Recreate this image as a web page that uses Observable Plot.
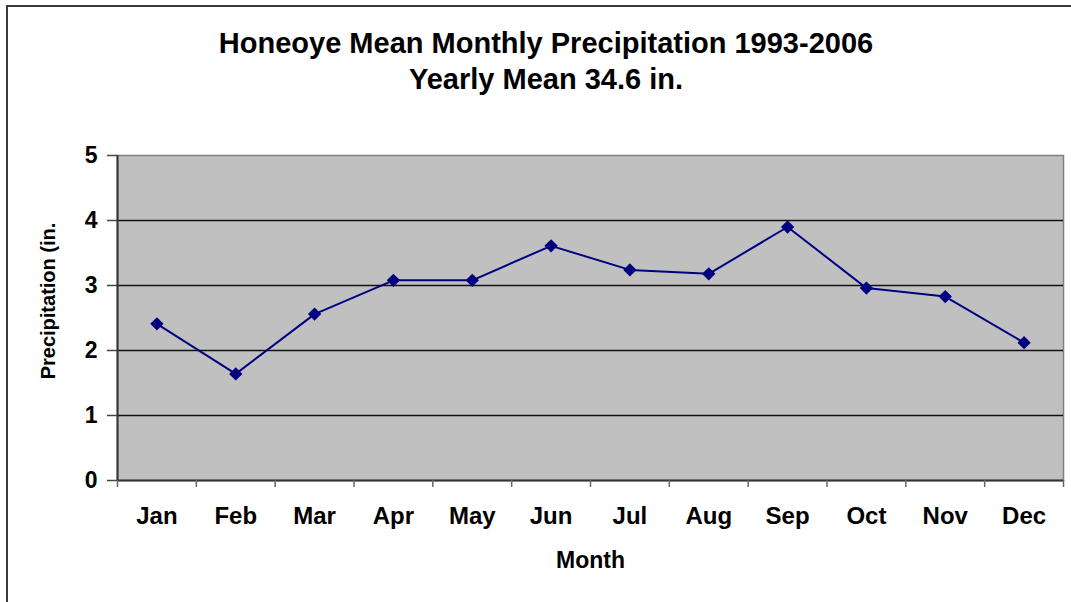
<!DOCTYPE html>
<html>
<head>
<meta charset="utf-8">
<script src="https://cdn.jsdelivr.net/npm/d3@7"></script>
<script src="https://cdn.jsdelivr.net/npm/@observablehq/plot@0.6"></script>
<style>
  body { margin: 0; background: #fff; }
  #wrap { position: relative; width: 1071px; height: 602px; overflow: hidden; background: #fff;
          font-family: "Liberation Sans", Arial, sans-serif; }
  #edge { position: absolute; left: 6px; top: 5px; width: 1200px; height: 800px;
          border-left: 2px solid #3a3a3a; border-top: 2px solid #3a3a3a; pointer-events: none; }
  #titles { width: 1092px; height: 120px; box-sizing: border-box; padding-top: 25px;
            text-align: center; font-weight: bold; font-size: 29px; line-height: 36px; color: #000; }
  #chart svg { display: block; }
</style>
</head>
<body>
<div id="wrap">
  <div id="edge"></div>
  <div id="titles">
    <div>Honeoye Mean Monthly Precipitation 1993-2006</div>
    <div>Yearly Mean 34.6 in.</div>
  </div>
  <div id="chart"></div>
</div>
<script>
const months = ["Jan","Feb","Mar","Apr","May","Jun","Jul","Aug","Sep","Oct","Nov","Dec"];
const precipitation = [2.41, 1.64, 2.56, 3.08, 3.08, 3.61, 3.24, 3.18, 3.90, 2.96, 2.83, 2.12];
const yTicks = [0, 1, 2, 3, 4, 5];
const yTitle = "Precipitation (in.";
const xTitle = "Month";

const data = months.map((m, i) => ({month: m, pos: i + 0.5, value: precipitation[i]}));
const boundaries = d3.range(months.length + 1);

const chart = Plot.plot({
  width: 1071,
  height: 482,
  marginTop: 35,
  marginBottom: 122,
  marginLeft: 117,
  marginRight: 8,
  style: {fontFamily: '"Liberation Sans", Arial, sans-serif', fontSize: "23px", fontWeight: "bold", color: "#000", background: "#fff", overflow: "visible"},
  x: {type: "linear", domain: [0, months.length], axis: null},
  y: {domain: [0, 5], axis: null},
  marks: [
    Plot.frame({fill: "#c0c0c0", stroke: "#808080", strokeWidth: 1.5}),
    Plot.gridY(yTicks.filter(d => d > 0 && d < 5), {stroke: "#111", strokeOpacity: 1, strokeWidth: 1.3}),
    Plot.ruleX([0], {stroke: "#333", strokeWidth: 2}),
    Plot.ruleY([0], {stroke: "#333", strokeWidth: 2}),
    Plot.axisY(yTicks, {anchor: "left", tickSize: 10, tickPadding: 10, tickFormat: "d", stroke: "#444", strokeWidth: 1.5, label: null, fontSize: 23, fontWeight: "bold", fill: "#000"}),
    Plot.axisX(boundaries, {anchor: "bottom", tickSize: 7, tickFormat: () => "", stroke: "#666", strokeWidth: 1.5, label: null}),
    Plot.text(data, {x: "pos", text: "month", frameAnchor: "bottom", lineAnchor: "middle", dy: 36, fontSize: 24, fontWeight: "bold", fill: "#000"}),
    Plot.text([xTitle], {frameAnchor: "bottom", lineAnchor: "middle", textAnchor: "middle", dy: 80, fontSize: 23, fontWeight: "bold", fill: "#000"}),
    Plot.text([yTitle], {frameAnchor: "left", lineAnchor: "middle", textAnchor: "middle", dx: -69, dy: -17, rotate: -90, fontSize: 20, fontWeight: "bold", fill: "#000"}),
    Plot.line(data, {x: "pos", y: "value", stroke: "#000080", strokeWidth: 2}),
    Plot.dot(data, {x: "pos", y: "value", symbol: "diamond2", r: 6, fill: "#000080", stroke: "none"})
  ]
});
document.getElementById("chart").appendChild(chart);
</script>
</body>
</html>
